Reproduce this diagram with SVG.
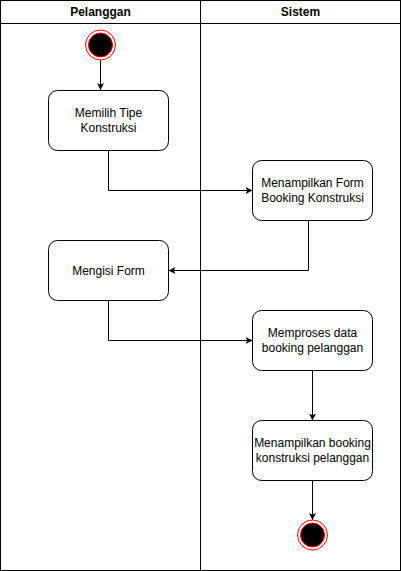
<svg xmlns="http://www.w3.org/2000/svg" width="401" height="571" viewBox="0 0 401 571">
<style>
.lane{fill:none;stroke:#000;stroke-width:1}
.hdr{font-family:"Liberation Sans",Arial,sans-serif;font-size:12px;font-weight:bold;fill:#000;text-anchor:middle}
.act rect{fill:#fff;stroke:#000;stroke-width:1}
.act text{font-family:"Liberation Sans",Arial,sans-serif;font-size:12px;fill:#000;text-anchor:middle}
.edge{fill:none;stroke:#000;stroke-width:1}
.outer{fill:#fff;stroke:#ff0000;stroke-width:1}
.inner{fill:#000;stroke:#ff0000;stroke-width:1}
</style>
<defs>
<marker id="arr" viewBox="0 0 10 10" refX="10" refY="5" markerWidth="7" markerHeight="7" orient="auto" markerUnits="userSpaceOnUse">
<path d="M0,0 L10,5 L0,10 L2.5,5 Z" fill="#000"/>
</marker>
</defs>
<rect width="401" height="571" fill="#fff"/>
<g id="lanes">
<rect class="lane" x="0.5" y="0.5" width="400" height="570"/>
<line class="lane" x1="0.5" y1="23.5" x2="400.5" y2="23.5"/>
<line class="lane" x1="200.5" y1="0.5" x2="200.5" y2="570.5"/>
<text class="hdr" x="100.5" y="16">Pelanggan</text>
<text class="hdr" x="300.5" y="16">Sistem</text>
</g>
<g id="connectors">
<path class="edge" d="M100.5,60 L100.5,90" marker-end="url(#arr)"/>
<path class="edge" d="M108.5,150.5 L108.5,190.5 L252.5,190.5" marker-end="url(#arr)"/>
<path class="edge" d="M308.5,220.5 L308.5,270.5 L168.5,270.5" marker-end="url(#arr)"/>
<path class="edge" d="M108.5,300.5 L108.5,340.5 L252.5,340.5" marker-end="url(#arr)"/>
<path class="edge" d="M312.5,370.5 L312.5,420.5" marker-end="url(#arr)"/>
<path class="edge" d="M312.5,480.5 L312.5,520" marker-end="url(#arr)"/>
</g>
<g id="start">
<circle class="outer" cx="100.5" cy="45" r="15"/>
<circle class="inner" cx="100.5" cy="45" r="12"/>
</g>
<g id="n1" class="act">
<rect x="48.5" y="90.5" width="120" height="60" rx="9"/>
<text x="108.5" y="116.5">Memilih Tipe</text>
<text x="108.5" y="131.5">Konstruksi</text>
</g>
<g id="n2" class="act">
<rect x="252.5" y="160.5" width="120" height="60" rx="9"/>
<text x="312.5" y="186.5">Menampilkan Form</text>
<text x="312.5" y="201.5">Booking Konstruksi</text>
</g>
<g id="n3" class="act">
<rect x="48.5" y="240.5" width="120" height="60" rx="9"/>
<text x="108.5" y="274.5">Mengisi Form</text>
</g>
<g id="n4" class="act">
<rect x="252.5" y="310.5" width="120" height="60" rx="9"/>
<text x="312.5" y="336.5">Memproses data</text>
<text x="312.5" y="351.5">booking pelanggan</text>
</g>
<g id="n5" class="act">
<rect x="252.5" y="420.5" width="120" height="60" rx="9"/>
<text x="312.5" y="446.5">Menampilkan booking</text>
<text x="312.5" y="461.5">konstruksi pelanggan</text>
</g>
<g id="end">
<circle class="outer" cx="312.5" cy="535" r="15"/>
<circle class="inner" cx="312.5" cy="535" r="12"/>
</g>
</svg>
